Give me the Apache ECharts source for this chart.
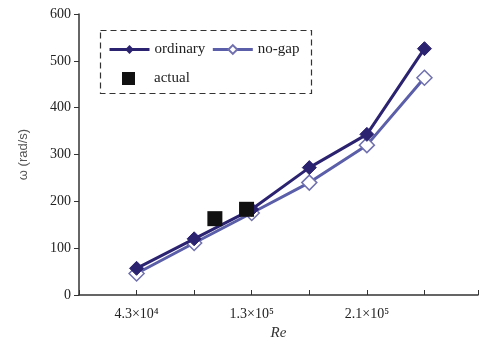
<!DOCTYPE html>
<html><head><meta charset="utf-8">
<script src="https://cdn.jsdelivr.net/npm/echarts@6/dist/echarts.min.js"></script>
<style>html,body{margin:0;padding:0;background:#fff}#c{width:481px;height:347px}</style>
</head><body><div id="c"></div>
<script>
var xPositions = [1, 2, 3, 4, 5, 6];
var xTickLabels = {1: '4.3×10⁴', 3: '1.3×10⁵', 5: '2.1×10⁵'};
var ordinary = [57, 120, 183, 272, 343, 526];
var noGap = [46, 111, 175, 240, 320, 464];
var actualX = [2.36, 2.91];
var actualY = [163, 183];

function pairs(xs, ys){ return xs.map(function(x,i){ return [x, ys[i]]; }); }

var chart = echarts.init(document.getElementById('c'));
chart.setOption({
  animation: false,
  grid: {left: 79, top: 14, right: 0, bottom: 52},
  xAxis: {
    type: 'value', min: 0, max: 6.93, interval: 1,
    axisLine: {lineStyle: {color: '#333', width: 1.5}},
    axisTick: {inside: true, length: 5, lineStyle: {color: '#333'}},
    splitLine: {show: false},
    axisLabel: {formatter: function(v){ return xTickLabels[v] || ''; }, fontFamily: 'Liberation Serif', fontSize: 14, color: '#222', margin: 12},
    name: 'Re', nameLocation: 'middle', nameGap: 31,
    nameTextStyle: {fontFamily: 'Liberation Serif', fontStyle: 'italic', fontSize: 15, color: '#333'}
  },
  yAxis: {
    type: 'value', min: 0, max: 600, interval: 100,
    axisLine: {show: true, lineStyle: {color: '#333', width: 1.5}},
    axisTick: {show: true, length: 5, lineStyle: {color: '#333'}},
    splitLine: {show: false},
    axisLabel: {fontFamily: 'Liberation Serif', fontSize: 14, color: '#222', margin: 8},
    name: 'ω (rad/s)', nameLocation: 'middle', nameGap: 49, nameRotate: 90,
    nameTextStyle: {fontFamily: 'Liberation Sans', fontSize: 13, color: '#555'}
  },
  legend: [{
    left: 103, top: 37, itemWidth: 40, itemHeight: 11, itemGap: 6,
    textStyle: {fontFamily: 'Liberation Serif', fontSize: 15, color: '#222'},
    lineStyle: {width: 3},
    data: ['ordinary', 'no-gap']
  }, {
    left: 117, top: 66, itemWidth: 13, itemHeight: 13, itemGap: 10,
    textStyle: {fontFamily: 'Liberation Serif', fontSize: 15, color: '#222', padding: [0,0,0,14]},
    data: [{name: 'actual', icon: 'rect'}]
  }],
  graphic: [{
    type: 'rect', shape: {x: 100.5, y: 30.5, width: 211, height: 63},
    style: {fill: 'none', stroke: '#333', lineWidth: 1.2, lineDash: [6, 4]}, z: 0
  }],
  series: [{
    name: 'no-gap', type: 'line', data: pairs(xPositions, noGap),
    symbol: 'diamond', symbolSize: 15,
    lineStyle: {color: '#5b5ea8', width: 3},
    itemStyle: {color: '#ffffff', borderColor: '#7070b0', borderWidth: 1.5},
    z: 2
  }, {
    name: 'ordinary', type: 'line', data: pairs(xPositions, ordinary),
    symbol: 'diamond', symbolSize: 14,
    lineStyle: {color: '#2b2370', width: 3},
    itemStyle: {color: '#2b2370', borderColor: '#2b2370'},
    z: 3
  }, {
    name: 'actual', type: 'scatter', data: pairs(actualX, actualY),
    symbol: 'rect', symbolSize: 15,
    itemStyle: {color: '#111111', opacity: 1}, z: 4
  }]
});
</script></body></html>
